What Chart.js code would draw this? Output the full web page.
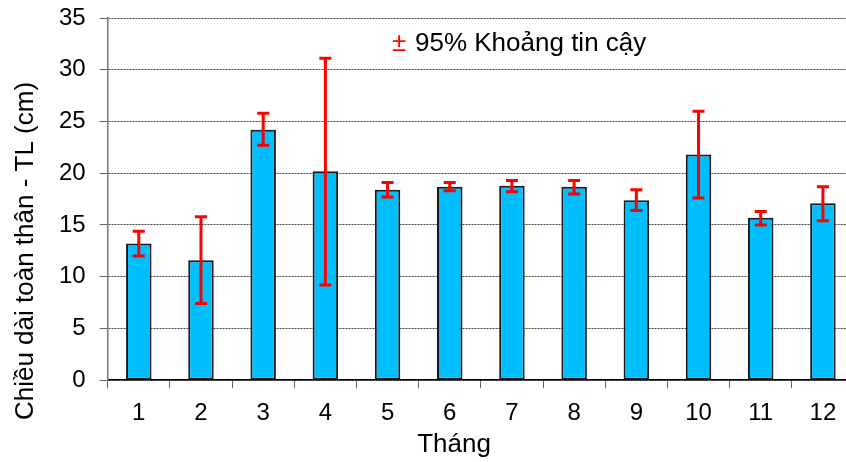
<!DOCTYPE html>
<html>
<head>
<meta charset="utf-8">
<script src="https://cdn.jsdelivr.net/npm/chart.js@4"></script>
<style>
  html, body { margin: 0; padding: 0; background: #fff; overflow: hidden; }
  #wrap { width: 854px; height: 462px; }
</style>
</head>
<body>
<div id="wrap"><canvas id="tlChart" width="854" height="462"></canvas></div>
<script>
// Data
const months = ['1', '2', '3', '4', '5', '6', '7', '8', '9', '10', '11', '12'];
const meanTL = [13.2, 11.6, 24.2, 20.2, 18.4, 18.7, 18.8, 18.7, 17.4, 21.8, 15.7, 17.1];
const ciLow = [12.0, 7.4, 22.7, 9.2, 17.7, 18.3, 18.2, 18.0, 16.4, 17.6, 15.0, 15.4];
const ciHigh = [14.4, 15.8, 25.8, 31.1, 19.1, 19.1, 19.3, 19.3, 18.4, 26.0, 16.3, 18.7];
const yMax = 35;
const yStep = 5;

const yTitle = 'Chiều dài toàn thân - TL (cm)';
const xTitle = 'Tháng';
const legendText = '95% Khoảng tin cậy';

const font = '"Liberation Sans", Arial, sans-serif';

// Draw the 95% CI whiskers on top of the bars
const errorBars = {
    id: 'errorBars',
    afterDatasetsDraw(chart) {
        const ctx = chart.ctx;
        const y = chart.scales.y;
        const meta = chart.getDatasetMeta(0);
        ctx.save();
        ctx.strokeStyle = '#ff0000';
        ctx.lineWidth = 3;
        meta.data.forEach((bar, i) => {
            const top = y.getPixelForValue(ciHigh[i]);
            const bot = y.getPixelForValue(ciLow[i]);
            ctx.beginPath();
            ctx.moveTo(bar.x, top);
            ctx.lineTo(bar.x, bot);
            ctx.moveTo(bar.x - 6, top);
            ctx.lineTo(bar.x + 6, top);
            ctx.moveTo(bar.x - 6, bot);
            ctx.lineTo(bar.x + 6, bot);
            ctx.stroke();
        });
        ctx.restore();
    }
};

// Axis titles and the small legend
const labels = {
    id: 'labels',
    afterDraw(chart) {
        const ctx = chart.ctx;
        ctx.save();
        ctx.fillStyle = '#000';
        ctx.font = '26px ' + font;
        ctx.textAlign = 'center';
        ctx.textBaseline = 'alphabetic';
        ctx.fillText(xTitle, 454, 452);

        ctx.translate(33, 251);
        ctx.rotate(-Math.PI / 2);
        ctx.fillText(yTitle, 0, 0);
        ctx.restore();

        ctx.save();
        ctx.font = '26px ' + font;
        ctx.textAlign = 'left';
        ctx.textBaseline = 'alphabetic';
        ctx.fillStyle = '#ff0000';
        ctx.fillText('±', 392, 51);
        ctx.fillStyle = '#000';
        ctx.fillText(legendText, 415, 51);
        ctx.restore();
    }
};

const ctx = document.getElementById('tlChart').getContext('2d');

const tlChart = new Chart(ctx, {
    type: 'bar',
    data: {
        labels: months,
        datasets: [{
            data: meanTL,
            backgroundColor: '#00BFFF',
            borderColor: '#1a1a1a',
            borderWidth: 2,
            borderSkipped: false,
            barPercentage: 0.41,
            categoryPercentage: 1
        }]
    },
    options: {
        responsive: false,
        animation: false,
        layout: {
            padding: { left: 45, top: 18, right: 0, bottom: 23 }
        },
        plugins: {
            legend: { display: false },
            tooltip: { enabled: false }
        },
        scales: {
            x: {
                offset: true,
                grid: {
                    drawOnChartArea: false,
                    offset: true,
                    tickLength: 8,
                    tickColor: '#666'
                },
                border: { color: '#000', width: 1.5 },
                ticks: {
                    color: '#000',
                    font: { family: font, size: 24 },
                    padding: 11,
                    maxRotation: 0
                }
            },
            y: {
                min: 0,
                max: yMax,
                afterFit: (scale) => {
                    // let the top gridline sit at the layout padding
                    scale.paddingTop = 0;
                },
                grid: {
                    color: '#444',
                    lineWidth: 1,
                    tickLength: 8,
                    tickColor: '#666'
                },
                border: { color: '#777', width: 1.5, dash: [2, 1] },
                ticks: {
                    stepSize: yStep,
                    color: '#000',
                    font: { family: font, size: 24 },
                    padding: 14
                }
            }
        }
    },
    plugins: [errorBars, labels]
});
</script>
</body>
</html>
